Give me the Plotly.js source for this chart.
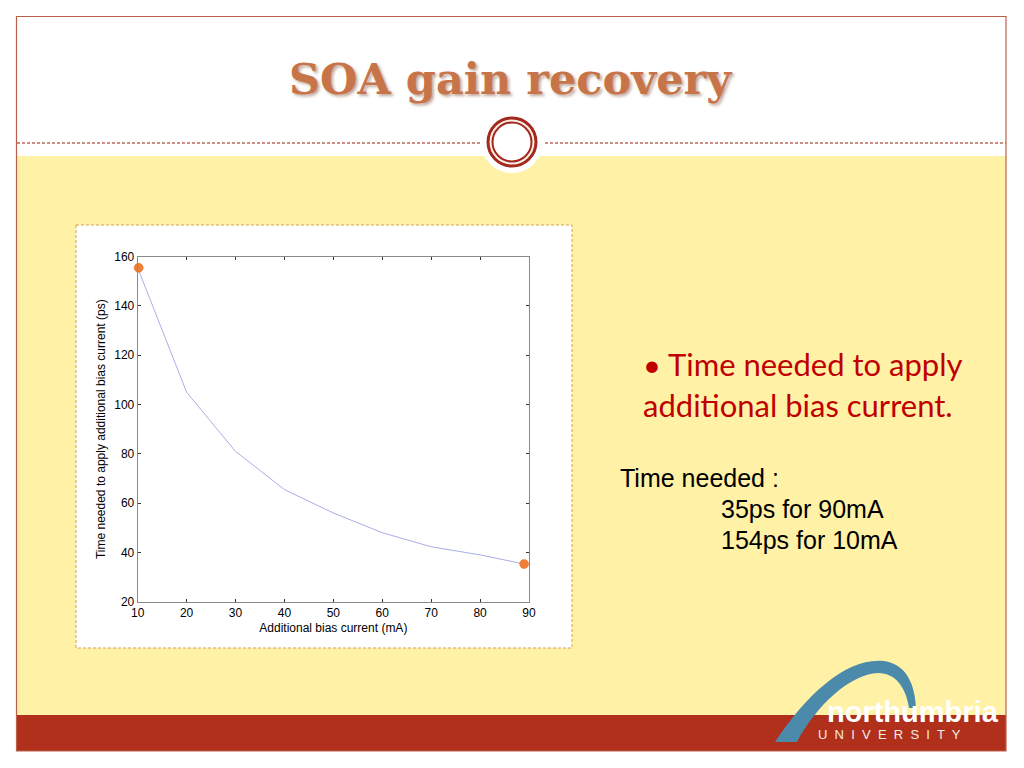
<!DOCTYPE html>
<html>
<head>
<meta charset="utf-8">
<script src="https://cdn.plot.ly/plotly-3.0.1.min.js"></script>
<style>
html,body{margin:0;padding:0;background:#ffffff;}
#chart{width:1024px;height:768px;}
</style>
</head>
<body>
<div id="chart"></div>
<script>
// ---- data ----
const biasCurrent = [10, 20, 30, 40, 50, 60, 70, 80, 89];
const timeNeeded  = [155.5, 105, 81, 65.5, 56, 48, 42.3, 39, 35.3];
const markedCurrent = [10.2, 89];
const markedTime    = [155.5, 35.3];
const xTicks = [10, 20, 30, 40, 50, 60, 70, 80, 90];
const yTicks = [20, 40, 60, 80, 100, 120, 140, 160];

const slideTitle = "SOA gain recovery";
const bulletLines = ["• Time needed to apply", "additional bias current."];
const noteLines = ["Time needed :", "35ps for 90mA", "154ps for 10mA"];

// ---- helpers: pixel -> paper ----
const W = 1024, H = 768;
const px = x => x / W;
const py = y => 1 - y / H;
function pathPx(cmds) {
  return cmds.map(c => {
    const L = c[0];
    const nums = [];
    for (let i = 1; i < c.length; i += 2) nums.push(px(c[i]).toFixed(5) + "," + py(c[i+1]).toFixed(5));
    return L + nums.join(" ");
  }).join(" ");
}

const YELLOW = "#fff1a6";
const RED = "#b1301c";

const shapes = [
  {type:"rect", xref:"paper", yref:"paper", x0:px(17), x1:px(1006), y0:py(156), y1:py(715),
   fillcolor:YELLOW, line:{width:0}, layer:"below"},
  {type:"rect", xref:"paper", yref:"paper", x0:px(17), x1:px(1006), y0:py(715), y1:py(751),
   fillcolor:RED, line:{width:0}, layer:"below"},
  {type:"rect", xref:"paper", yref:"paper", x0:px(16.5), x1:px(1006), y0:py(16.5), y1:py(751),
   fillcolor:"rgba(0,0,0,0)", line:{width:1.2, color:"#b9604a"}, layer:"below"},
  {type:"line", xref:"paper", yref:"paper", x0:px(17), x1:px(480), y0:py(143), y1:py(143),
   line:{width:1.5, color:"#bf6a5e", dash:"3px,2px"}, layer:"below"},
  {type:"line", xref:"paper", yref:"paper", x0:px(545), x1:px(1006), y0:py(143), y1:py(143),
   line:{width:1.5, color:"#bf6a5e", dash:"3px,2px"}, layer:"below"},
  {type:"circle", xref:"paper", yref:"paper", x0:px(512-31), x1:px(512+31), y0:py(142-31), y1:py(142+31),
   fillcolor:"#ffffff", line:{width:0}, layer:"below"},
  {type:"circle", xref:"paper", yref:"paper", x0:px(512-24), x1:px(512+24), y0:py(142-24), y1:py(142+24),
   fillcolor:"#fbeee6", line:{width:3, color:"#a3281d"}, layer:"below"},
  {type:"circle", xref:"paper", yref:"paper", x0:px(512-19.5), x1:px(512+19.5), y0:py(142-19.5), y1:py(142+19.5),
   fillcolor:"#ffffff", line:{width:2, color:"#a3281d"}, layer:"below"},
  {type:"rect", xref:"paper", yref:"paper", x0:px(76), x1:px(572), y0:py(225), y1:py(648),
   fillcolor:"#ffffff", line:{width:1, color:"#d5a24c", dash:"3px,2px"}, layer:"below"},
  {type:"path", xref:"paper", yref:"paper", layer:"below",
   path: pathPx([["M",775,742],["C",808,692, 848,657, 884,661],["C",906,664, 915,684, 916,708],
                 ["L",909,708],["C",906,688, 896,673, 878,673],["C",850,674, 816,706, 797,742],["Z"]]),
   fillcolor:"#4b8aab", line:{width:0}}
];

const annotations = [
  {text:slideTitle, xref:"paper", yref:"paper", x:px(511), y:py(79), xanchor:"center", yanchor:"middle",
   showarrow:false, font:{family:"DejaVu Serif", size:43, weight:"bold", color:"#c8744a",
   shadow:"2px 2px 3px rgba(110,60,30,0.45)"}},
  {text:bulletLines[0], xref:"paper", yref:"paper", x:px(641), y:py(364), xanchor:"left", yanchor:"middle",
   showarrow:false, font:{family:"Lato", size:31, color:"#c00000"}},
  {text:bulletLines[1], xref:"paper", yref:"paper", x:px(641), y:py(405), xanchor:"left", yanchor:"middle",
   showarrow:false, font:{family:"Lato", size:31, color:"#c00000"}},
  {text:noteLines[0], xref:"paper", yref:"paper", x:px(618), y:py(478), xanchor:"left", yanchor:"middle",
   showarrow:false, font:{family:"Liberation Sans", size:25, color:"#000000"}},
  {text:noteLines[1], xref:"paper", yref:"paper", x:px(719), y:py(509), xanchor:"left", yanchor:"middle",
   showarrow:false, font:{family:"Liberation Sans", size:25, color:"#000000"}},
  {text:noteLines[2], xref:"paper", yref:"paper", x:px(719), y:py(540), xanchor:"left", yanchor:"middle",
   showarrow:false, font:{family:"Liberation Sans", size:25, color:"#000000"}},
  {text:"northumbria", xref:"paper", yref:"paper", x:px(825), y:py(712), xanchor:"left", yanchor:"middle",
   showarrow:false, font:{family:"Liberation Sans", size:29, weight:"bold", color:"#ffffff"}},
  {text:"U  N  I  V  E  R  S  I  T  Y", xref:"paper", yref:"paper", x:px(816), y:py(734), xanchor:"left", yanchor:"middle",
   showarrow:false, font:{family:"Liberation Sans", size:13, color:"#f4ece6"}}
];

const traces = [
  {x:biasCurrent, y:timeNeeded, type:"scatter", mode:"lines",
   line:{color:"#a9aee6", width:1}, hoverinfo:"skip"},
  {x:markedCurrent, y:markedTime, type:"scatter", mode:"markers",
   marker:{color:"#ef7f37", size:9, line:{color:"#e06a25", width:0.5}}, hoverinfo:"skip", cliponaxis:false}
];

const axisFont = {family:"Liberation Sans", size:12, color:"#000000"};
const layout = {
  width:W, height:H,
  margin:{l:0, r:0, t:0, b:0},
  paper_bgcolor:"#ffffff",
  plot_bgcolor:"rgba(0,0,0,0)",
  showlegend:false,
  xaxis:{domain:[px(137.7), px(529)], range:[10,90], tickvals:xTicks, ticktext:xTicks.map(String),
    ticks:"inside", ticklen:3, tickcolor:"#333333", showline:true, linecolor:"#8a8a8a", linewidth:1,
    mirror:"ticks", showgrid:false, zeroline:false, tickfont:axisFont,
    title:{text:"Additional bias current (mA)", font:axisFont, standoff:4}},
  yaxis:{domain:[py(601.7), py(256.7)], range:[20,160], tickvals:yTicks, ticktext:yTicks.map(String),
    ticks:"inside", ticklen:3, tickcolor:"#333333", showline:true, linecolor:"#8a8a8a", linewidth:1,
    mirror:"ticks", showgrid:false, zeroline:false, tickfont:axisFont,
    title:{text:"Time needed to apply additional bias current (ps)", font:axisFont, standoff:6}},
  shapes:shapes,
  annotations:annotations
};

Plotly.newPlot("chart", traces, layout, {staticPlot:true, displayModeBar:false});
</script>
</body>
</html>
